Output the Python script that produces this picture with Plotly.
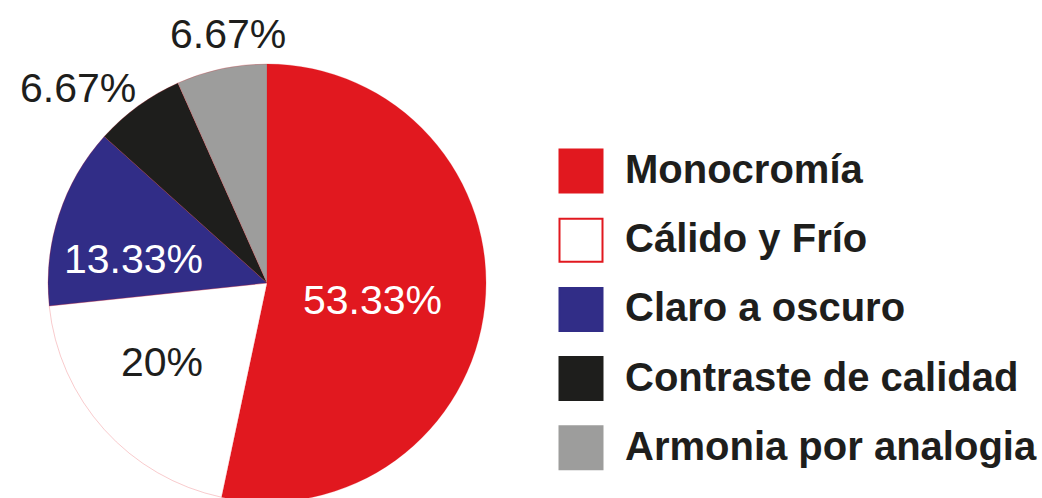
import math
import plotly.graph_objects as go

labels = ["Monocromía", "Cálido y Frío", "Claro a oscuro", "Contraste de calidad", "Armonia por analogia"]
values = [53.33, 20, 13.33, 6.67, 6.67]
value_labels = ["53.33%", "20%", "13.33%", "6.67%", "6.67%"]
colors = ["#E1181F", "#FFFFFF", "#312D87", "#1E1E1C", "#9D9D9C"]
border_colors = ["#E1181F", "#E1181F", "#312D87", "#1E1E1C", "#9D9D9C"]
text_colors = ["#FFFFFF", "#1E1E1C", "#FFFFFF", "#1E1E1C", "#1E1E1C"]
# label placement style: radial factor (of radius) and angle shift (deg) per slice
label_radial = [0.49, 0.60, 0.62, 1.24, 1.15]
label_angle_shift = [3, 5, -8, -8, 3]

W, H = 1042, 502
CX, CY, R = 267, 283, 219
FONT = "Liberation Sans, Arial, sans-serif"

fig = go.Figure()

fig.add_trace(go.Pie(
    labels=labels, values=values, sort=False, direction="clockwise", rotation=0,
    marker=dict(colors=colors, line=dict(width=0.5, color="rgba(225,24,31,0.45)")),
    textinfo="none",
    showlegend=False, hoverinfo="label+percent",
    domain=dict(x=[(CX - R) / W, (CX + R) / W], y=[0, 2 * R / H]),
))

# slice labels placed from the slice mid-angles
total = sum(values)
cum = 0
annotations = []
for v, t, c, f, s in zip(values, value_labels, text_colors, label_radial, label_angle_shift):
    mid = (cum + v / 2) / total * 360 + s
    cum += v
    px = CX + f * R * math.sin(math.radians(mid))
    py = CY - f * R * math.cos(math.radians(mid))
    annotations.append(dict(
        x=px / W, y=1 - py / H, xref="paper", yref="paper", text=t, showarrow=False,
        xanchor="center", yanchor="middle",
        font=dict(family=FONT, size=41, color=c),
    ))

# Legend drawn as a scatter of square markers with labels
row_y = [171 + 69.2 * i for i in range(len(labels))]
fig.add_trace(go.Scatter(
    x=[581] * len(labels), y=row_y, mode="markers",
    marker=dict(symbol="square", size=43, color=colors,
                line=dict(color=border_colors, width=2)),
    showlegend=False, hoverinfo="skip", xaxis="x", yaxis="y",
))
fig.add_trace(go.Scatter(
    x=[625] * len(labels), y=[y + 2 for y in row_y], mode="text",
    text=["<b>" + l + "</b>" for l in labels], textposition="middle right",
    textfont=dict(family=FONT, size=40, color="#1E1E1C"),
    showlegend=False, hoverinfo="skip", xaxis="x", yaxis="y",
))

fig.update_layout(
    width=W, height=H, margin=dict(l=0, r=0, t=0, b=0),
    paper_bgcolor="white", plot_bgcolor="rgba(0,0,0,0)",
    xaxis=dict(domain=[0, 1], range=[0, W], visible=False, fixedrange=True),
    yaxis=dict(domain=[0, 1], range=[H, 0], visible=False, fixedrange=True),
    annotations=annotations,
    showlegend=False,
)

fig.write_html("out.html", config={"displayModeBar": False},
               post_script="document.body.style.margin='0';document.body.style.overflow='hidden';")
